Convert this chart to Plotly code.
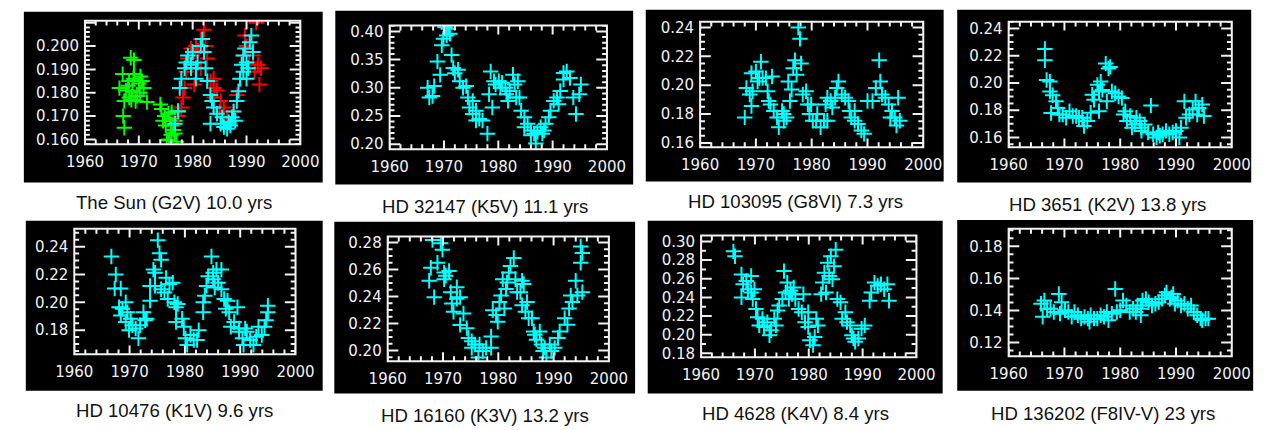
import math
import plotly.graph_objects as go

W, H = 1277, 430

# ---------------- data (year, S-index) ----------------
sun_green = [(1968.5,0.195),(1969.1,0.194),(1967.0,0.188),(1966.4,0.182),(1967.3,0.1765),(1967.1,0.170),
             (1967.3,0.165),(1968.2,0.185),(1968.8,0.181),(1969.4,0.1765),(1970.0,0.184),(1970.3,0.187),
             (1970.9,0.182),(1971.5,0.176),(1969.7,0.1786),(1968.2,0.178),(1967.6,0.181),(1969.1,0.188),
             (1970.6,0.185),(1968.0,0.183),(1969.0,0.186),(1970.2,0.180),(1968.6,0.177),
             (1974.2,0.173),(1974.8,0.170),(1974.5,0.168),(1975.5,0.171),(1975.8,0.169),(1976.1,0.166),
             (1976.4,0.164),(1976.7,0.1625),(1975.2,0.1597),(1977.0,0.159),(1977.3,0.1723),(1976.7,0.168),
             (1976.1,0.1716),(1975.0,0.166),(1976.0,0.162),(1974.0,0.175),(1975.6,0.160)]
sun_red = [(1977.3,0.170),(1977.9,0.1737),(1978.2,0.178),(1978.5,0.182),(1978.8,0.189),(1979.1,0.1947),
           (1979.7,0.199),(1980.6,0.200),(1981.5,0.203),(1982.1,0.207),(1982.4,0.200),(1982.7,0.1947),
           (1983.3,0.185),(1983.9,0.182),(1984.5,0.181),(1985.2,0.1765),(1985.8,0.1737),(1986.4,0.168),
           (1987.0,0.1667),(1987.6,0.172),(1988.2,0.179),(1988.8,0.186),(1989.4,0.196),(1989.7,0.2045),
           (1990.0,0.200),(1991.2,0.196),(1991.8,0.210),(1992.1,0.192),(1992.4,0.1835),(1992.7,0.1905),
           (1981.5,0.1905),(1980.3,0.1835),(1983.9,0.186),(1979.7,0.1905),(1980.0,0.196),(1981.0,0.198),
           (1984.0,0.178),(1985.0,0.172),(1990.5,0.193),(1991.5,0.189)]
sun_cyan = [(1976.7,0.1667),(1977.3,0.172),(1977.6,0.182),(1977.9,0.186),(1978.5,0.1905),(1978.8,0.193),
            (1979.1,0.196),(1980.0,0.1975),(1979.7,0.1905),(1980.6,0.186),(1980.9,0.193),(1981.5,0.200),
            (1981.8,0.203),(1982.1,0.1975),(1982.4,0.1905),(1982.7,0.185),(1983.3,0.179),(1983.6,0.1765),
            (1983.9,0.1737),(1983.3,0.1667),(1984.5,0.171),(1985.2,0.1667),(1985.8,0.1653),(1986.4,0.1646),
            (1987.0,0.166),(1987.3,0.1695),(1987.6,0.172),(1988.2,0.1765),(1988.5,0.1807),(1988.8,0.186),
            (1989.1,0.192),(1989.4,0.196),(1989.7,0.199),(1990.0,0.193),(1990.3,0.1905),(1990.6,0.2017),
            (1990.9,0.2045),(1991.2,0.1975),(1990.0,0.186),(1989.4,0.189),(1979.7,0.192),(1980.6,0.1905),
            (1985.5,0.1695),(1986.7,0.1674),(1987.9,0.168)]
hd32147 = [(1967.0,0.300),(1967.3,0.2826),(1967.9,0.2855),(1968.2,0.303),(1968.8,0.3465),(1969.3,0.323),
           (1969.6,0.3756),(1969.9,0.387),(1970.2,0.4075),(1970.8,0.4046),(1970.5,0.393),(1971.1,0.396),
           (1971.4,0.358),(1971.7,0.335),(1972.0,0.326),(1972.6,0.332),(1972.9,0.3116),(1973.5,0.300),
           (1974.1,0.303),(1974.4,0.2826),(1974.7,0.265),(1975.3,0.2535),(1975.9,0.242),(1976.5,0.2448),
           (1977.1,0.242),(1978.0,0.2186),(1978.3,0.2884),(1978.6,0.329),(1978.9,0.265),(1979.2,0.3116),
           (1979.5,0.306),(1980.1,0.3116),(1980.7,0.309),(1981.3,0.300),(1981.5,0.2884),(1981.8,0.2767),
           (1982.7,0.3233),(1983.0,0.306),(1983.3,0.2826),(1983.9,0.2826),(1984.2,0.2593),(1984.8,0.2477),
           (1985.4,0.236),(1986.0,0.2244),(1986.6,0.2186),(1986.9,0.2012),(1987.2,0.2215),(1987.8,0.2302),
           (1988.4,0.2244),(1988.7,0.236),(1989.3,0.2477),(1989.6,0.2593),(1990.2,0.2767),(1990.8,0.2826),
           (1991.1,0.271),(1991.4,0.2942),(1992.0,0.3262),(1992.6,0.329),(1993.2,0.3174),(1993.8,0.2826),
           (1994.3,0.2535),(1994.9,0.2884),(1995.2,0.306),(1984.8,0.2302),(1986.0,0.2157),(1988.1,0.2186),
           (1975.9,0.2593),(1975.3,0.2767),(1982.1,0.2942),(1983.6,0.3116),(1980.4,0.300),(1992.0,0.3145)]
hd103095 = [(1968.0,0.1777),(1968.3,0.198),(1968.9,0.1935),(1969.2,0.1856),(1969.4,0.1958),(1969.2,0.2083),
            (1970.0,0.2094),(1970.6,0.2049),(1970.9,0.2162),(1971.2,0.2049),(1971.8,0.2049),(1972.1,0.1958),
            (1972.3,0.189),(1972.9,0.206),(1972.6,0.1867),(1973.2,0.1822),(1973.8,0.1777),(1974.1,0.1709),
            (1974.7,0.1822),(1975.0,0.1754),(1975.5,0.1777),(1975.8,0.2026),(1976.1,0.189),(1976.4,0.197),
            (1976.7,0.2117),(1977.0,0.2173),(1977.3,0.2072),(1977.6,0.240),(1977.9,0.2321),(1978.1,0.2151),
            (1978.4,0.1935),(1979.0,0.1958),(1979.3,0.1867),(1979.6,0.180),(1979.9,0.1867),(1980.2,0.1754),
            (1980.8,0.1754),(1981.0,0.180),(1981.6,0.1709),(1982.2,0.1754),(1982.5,0.1867),(1982.8,0.1913),
            (1983.4,0.189),(1983.7,0.1845),(1984.2,0.1913),(1984.5,0.198),(1984.8,0.2026),(1985.4,0.1935),
            (1986.0,0.1913),(1986.6,0.189),(1986.8,0.1822),(1987.1,0.1777),(1987.7,0.1754),(1988.3,0.1731),
            (1988.9,0.1686),(1989.4,0.1663),(1990.0,0.189),(1990.9,0.189),(1991.5,0.198),(1992.1,0.2173),
            (1992.3,0.2026),(1992.6,0.1935),(1993.2,0.1913),(1993.8,0.1867),(1994.1,0.1777),(1994.4,0.1822),
            (1994.9,0.1777),(1995.2,0.172),(1995.5,0.1913),(1995.8,0.1754),(1970.3,0.2026),(1975.0,0.180),
            (1982.8,0.1754),(1987.7,0.1822)]
hd3651 = [(1966.5,0.225),(1966.5,0.2166),(1966.8,0.2022),(1967.4,0.201),(1967.4,0.1937),(1967.6,0.178),
          (1967.9,0.191),(1968.5,0.1865),(1968.8,0.1817),(1969.1,0.1769),(1969.7,0.1769),(1970.3,0.1745),
          (1970.9,0.1793),(1971.5,0.1757),(1972.1,0.1757),(1972.6,0.1745),(1973.2,0.1745),(1973.5,0.1684),
          (1974.1,0.172),(1974.7,0.1781),(1975.0,0.1913),(1975.3,0.1877),(1975.9,0.1986),(1976.2,0.1937),
          (1976.5,0.201),(1976.8,0.1949),(1977.4,0.2142),(1977.6,0.1865),(1977.9,0.2106),(1978.2,0.2118),
          (1978.5,0.1937),(1979.1,0.1925),(1979.7,0.1901),(1980.3,0.1889),(1980.6,0.1769),(1980.9,0.1793),
          (1981.2,0.172),(1981.8,0.1757),(1982.1,0.1672),(1982.6,0.1696),(1982.9,0.1745),(1983.5,0.172),
          (1983.8,0.1648),(1984.4,0.1696),(1985.0,0.1636),(1985.5,0.1834),(1985.9,0.1624),(1986.5,0.160),
          (1987.1,0.1612),(1987.6,0.1624),(1988.2,0.1648),(1988.8,0.1624),(1989.4,0.1636),(1990.0,0.1648),
          (1990.6,0.160),(1990.9,0.1672),(1991.5,0.1865),(1991.8,0.1745),(1992.4,0.1769),(1993.0,0.1805),
          (1993.5,0.1865),(1993.8,0.1769),(1994.1,0.1817),(1994.7,0.1841),(1995.0,0.1757),(1986.8,0.1636),
          (1976.2,0.1793),(1983.8,0.1672)]
hd10476 = [(1966.7,0.2329),(1967.5,0.220),(1967.3,0.2099),(1968.4,0.2099),(1968.1,0.1965),(1968.7,0.1953),
           (1968.4,0.1906),(1969.3,0.200),(1969.6,0.1929),(1969.3,0.1859),(1969.9,0.180),(1970.2,0.1882),
           (1970.5,0.1835),(1971.1,0.1812),(1971.6,0.1741),(1971.9,0.1835),(1972.5,0.1929),(1972.8,0.1871),
           (1973.1,0.1882),(1973.7,0.2012),(1973.7,0.2118),(1974.3,0.2235),(1974.6,0.2212),(1974.6,0.2118),
           (1975.1,0.2447),(1975.4,0.2353),(1975.7,0.2306),(1975.7,0.2094),(1976.3,0.2071),(1976.6,0.2176),
           (1976.9,0.2024),(1977.2,0.2129),(1977.8,0.2141),(1978.1,0.200),(1978.4,0.1965),(1978.7,0.1988),
           (1978.4,0.1859),(1979.5,0.1882),(1979.8,0.1824),(1980.1,0.1741),(1980.4,0.1694),(1981.0,0.1765),
           (1981.6,0.1729),(1982.2,0.1729),(1982.5,0.180),(1983.3,0.1929),(1983.3,0.200),(1983.6,0.2047),
           (1983.9,0.2118),(1984.2,0.2188),(1984.8,0.2329),(1985.1,0.2165),(1985.4,0.2106),(1985.7,0.2235),
           (1986.0,0.2141),(1986.6,0.2235),(1986.6,0.2094),(1987.1,0.2024),(1987.4,0.1953),(1987.7,0.2012),
           (1988.0,0.1929),(1988.3,0.1824),(1988.9,0.1859),(1989.5,0.1965),(1989.8,0.1788),(1990.4,0.1741),
           (1990.6,0.1694),(1991.2,0.1788),(1991.8,0.1729),(1992.4,0.1694),(1992.9,0.1753),(1993.3,0.1824),
           (1993.9,0.1765),(1994.4,0.1824),(1994.7,0.1871),(1995.0,0.1929),(1995.0,0.1976),(1989.8,0.1812),
           (1990.9,0.1812),(1985.1,0.2212)]
hd16160 = [(1967.8,0.2613),(1967.5,0.2516),(1968.4,0.2395),(1968.1,0.2819),(1969.0,0.265),(1969.6,0.2795),
           (1969.9,0.2747),(1969.9,0.2844),(1970.2,0.2577),(1970.5,0.2553),(1970.2,0.2528),(1971.1,0.2589),
           (1971.4,0.2432),(1971.6,0.2347),(1971.9,0.2286),(1972.5,0.2468),(1972.5,0.2383),(1973.1,0.2395),
           (1973.1,0.2189),(1973.7,0.2274),(1974.3,0.2165),(1974.6,0.2092),(1975.2,0.2068),(1975.8,0.2044),
           (1976.4,0.1947),(1976.6,0.2044),(1977.2,0.1995),(1977.8,0.2019),(1978.7,0.2104),(1978.7,0.2019),
           (1979.0,0.2298),(1979.6,0.2262),(1979.9,0.2213),(1980.2,0.2359),(1980.5,0.2407),(1980.8,0.2528),
           (1981.1,0.231),(1981.4,0.2456),(1981.6,0.2504),(1981.9,0.2577),(1982.2,0.2625),(1982.8,0.2686),
           (1983.1,0.2528),(1983.4,0.2432),(1984.0,0.2432),(1984.3,0.2516),(1984.6,0.2492),(1984.3,0.2335),
           (1984.9,0.2286),(1985.2,0.2359),(1985.5,0.2238),(1986.1,0.2238),(1986.6,0.2116),(1986.9,0.208),
           (1987.5,0.2141),(1987.8,0.2044),(1988.1,0.1995),(1988.7,0.1947),(1989.3,0.2044),(1989.6,0.1995),
           (1990.2,0.2019),(1990.8,0.2092),(1991.1,0.2141),(1992.0,0.2238),(1992.5,0.219),(1992.8,0.231),
           (1993.1,0.2407),(1993.4,0.2359),(1994.0,0.2516),(1994.3,0.2407),(1994.9,0.265),(1994.9,0.2771),
           (1995.2,0.2722),(1995.2,0.2432),(1986.4,0.2141),(1988.4,0.2019),(1975.2,0.2019)]
hd4628 = [(1966.0,0.2894),(1966.3,0.2841),(1967.5,0.2647),(1967.5,0.240),(1967.8,0.2541),(1968.4,0.2576),
          (1968.7,0.2488),(1969.3,0.2629),(1969.3,0.2453),(1969.6,0.2382),(1969.9,0.2488),(1970.2,0.2276),
          (1970.5,0.2188),(1970.8,0.210),(1971.4,0.217),(1971.7,0.2082),(1972.3,0.2135),(1972.7,0.1994),
          (1973.0,0.2047),(1973.6,0.217),(1973.9,0.210),(1974.2,0.2259),(1974.5,0.2312),(1975.1,0.2382),
          (1975.4,0.2682),(1975.7,0.2453),(1976.0,0.2559),(1976.3,0.2382),(1976.9,0.2435),(1977.2,0.2506),
          (1977.5,0.2382),(1978.1,0.2276),(1978.7,0.2241),(1979.0,0.2435),(1979.3,0.2135),(1979.9,0.2082),
          (1980.2,0.1941),(1980.8,0.1888),(1981.1,0.1976),(1981.4,0.217),(1981.7,0.210),(1982.3,0.2435),
          (1982.6,0.2559),(1982.9,0.2665),(1983.2,0.2453),(1983.5,0.2771),(1983.8,0.2629),(1984.1,0.2841),
          (1984.4,0.2594),(1984.7,0.2735),(1985.0,0.2912),(1985.3,0.2382),(1985.9,0.2347),(1986.2,0.217),
          (1986.8,0.2241),(1987.1,0.2135),(1987.7,0.210),(1988.0,0.1994),(1988.6,0.1924),(1989.2,0.1959),
          (1989.8,0.2065),(1990.4,0.210),(1991.3,0.2365),(1991.6,0.2453),(1992.2,0.2559),(1992.8,0.2524),
          (1993.4,0.2541),(1994.0,0.2488),(1994.6,0.2541),(1994.9,0.2365),(1988.3,0.1959),(1979.9,0.2241),
          (1976.6,0.2471)]
hd136202 = [(1965.8,0.1442),(1966.1,0.136),(1966.4,0.1462),(1966.9,0.1411),(1967.5,0.1411),(1968.1,0.139),
            (1969.0,0.1503),(1969.2,0.138),(1969.5,0.1452),(1970.1,0.1401),(1970.7,0.139),(1971.3,0.136),
            (1971.8,0.139),(1972.4,0.137),(1973.0,0.1349),(1973.6,0.136),(1974.2,0.1349),(1974.7,0.137),
            (1975.3,0.1349),(1975.9,0.1349),(1976.5,0.137),(1977.1,0.136),(1977.6,0.139),(1977.9,0.1339),
            (1978.5,0.138),(1979.1,0.1534),(1979.4,0.139),(1980.0,0.1401),(1980.5,0.1462),(1981.1,0.1431),
            (1981.7,0.139),(1982.3,0.1411),(1982.8,0.139),(1983.1,0.1431),(1983.7,0.1411),(1984.0,0.1462),
            (1984.6,0.1472),(1985.1,0.1452),(1985.7,0.1431),(1986.3,0.1442),(1986.9,0.1452),(1987.5,0.1472),
            (1988.0,0.1493),(1988.3,0.1513),(1988.9,0.1472),(1989.5,0.1503),(1989.8,0.1442),(1990.3,0.1462),
            (1990.9,0.1431),(1991.5,0.1442),(1992.1,0.1411),(1992.7,0.1431),(1993.2,0.139),(1993.8,0.137),
            (1994.4,0.1349),(1994.7,0.1339),(1995.3,0.1349),(1995.8,0.1349),(1974.5,0.1329),(1983.7,0.137),
            (1989.2,0.1483)]

captions = ["The Sun (G2V) 10.0 yrs", "HD 32147 (K5V) 11.1 yrs", "HD 103095 (G8VI) 7.3 yrs",
            "HD 3651 (K2V) 13.8 yrs", "HD 10476 (K1V) 9.6 yrs", "HD 16160 (K3V) 13.2 yrs",
            "HD 4628 (K4V) 8.4 yrs", "HD 136202 (F8IV-V) 23 yrs"]
year_ticks = [1960, 1970, 1980, 1990, 2000]

GREEN, RED, CYAN = "#00ff00", "#ff0000", "#00ffff"

# ---------------- layout of the eight panels (pixels) ----------------
panels = [
    dict(series=[(sun_green, GREEN), (sun_red, RED), (sun_cyan, CYAN)], frame=(68, 18, 290, 144),
         bg=(5, 9, 313, 183), yr=(0.1579, 0.2109), yt=[0.16, 0.17, 0.18, 0.19, 0.20], fmt="{:.3f}",
         minor=0.002, cap=(160, 203)),
    dict(series=[(hd32147, CYAN)], frame=(382, 23, 606, 149), bg=(326, 8, 633, 185),
         yr=(0.191, 0.4104), yt=[0.20, 0.25, 0.30, 0.35, 0.40], fmt="{:.2f}", minor=0.01, cap=(480, 207)),
    dict(series=[(hd103095, CYAN)], frame=(702, 19, 932, 147), bg=(646, 7, 953, 182),
         yr=(0.157, 0.244), yt=[0.16, 0.18, 0.20, 0.22, 0.24], fmt="{:.2f}", minor=0.005, cap=(800, 202)),
    dict(series=[(hd3651, CYAN)], frame=(1020, 19, 1250, 147), bg=(967, 7, 1270, 183),
         yr=(0.1528, 0.245), yt=[0.16, 0.18, 0.20, 0.22, 0.24], fmt="{:.2f}", minor=0.005, cap=(1122, 205)),
    dict(series=[(hd10476, CYAN)], frame=(57, 230, 285, 358), bg=(7, 222, 313, 395),
         yr=(0.1626, 0.2529), yt=[0.18, 0.20, 0.22, 0.24], fmt="{:.2f}", minor=0.005, cap=(160, 415)),
    dict(series=[(hd16160, CYAN)], frame=(380, 238, 608, 365), bg=(325, 223, 635, 398),
         yr=(0.192, 0.2844), yt=[0.20, 0.22, 0.24, 0.26, 0.28], fmt="{:.2f}", minor=0.005, cap=(480, 420)),
    dict(series=[(hd4628, CYAN)], frame=(703, 237, 925, 361), bg=(648, 222, 952, 398),
         yr=(0.1758, 0.3063), yt=[0.18, 0.20, 0.22, 0.24, 0.26, 0.28, 0.30], fmt="{:.2f}", minor=0.01,
         cap=(800, 418)),
    dict(series=[(hd136202, CYAN)], frame=(1020, 230, 1250, 360), bg=(967, 221, 1272, 395),
         yr=(0.1114, 0.191), yt=[0.12, 0.14, 0.16, 0.18], fmt="{:.2f}", minor=0.005, cap=(1117, 418)),
]

fig = go.Figure()
shapes, annotations = [], []
AX = "#f2f2f2"
TICKFONT = dict(family="DejaVu Sans", size=15, color="#f2f2f2")
XMAJ, XMIN, YMAJ, YMIN = 9, 5, 11, 5   # tick lengths in px

for i, p in enumerate(panels):
    n = i + 1
    xa = "xaxis" if n == 1 else f"xaxis{n}"
    ya = "yaxis" if n == 1 else f"yaxis{n}"
    xr = "x" if n == 1 else f"x{n}"
    yr = "y" if n == 1 else f"y{n}"
    for pts, col in p["series"]:
        fig.add_trace(go.Scatter(
            x=[a for a, b in pts], y=[b for a, b in pts], mode="markers", xaxis=xr, yaxis=yr,
            marker=dict(symbol="cross-thin", size=11, line=dict(width=2, color=col)),
            showlegend=False, hoverinfo="skip"))
    x0, y0, x1, y1 = p["frame"]
    ymin, ymax = p["yr"]
    fig.layout[xa] = dict(
        domain=[x0 / W, x1 / W], range=[1960, 2000], anchor=yr,
        showgrid=False, zeroline=False, showline=False, ticks="",
        tickvals=year_ticks, ticktext=[str(v) for v in year_ticks], tickfont=TICKFONT,
        ticklabelstandoff=7)
    fig.layout[ya] = dict(
        domain=[1 - y1 / H, 1 - y0 / H], range=[ymin, ymax], anchor=xr,
        showgrid=False, zeroline=False, showline=False, ticks="",
        tickvals=p["yt"], ticktext=[p["fmt"].format(v) for v in p["yt"]], tickfont=TICKFONT,
        ticklabelstandoff=5)

    # IDL-style box: ticks pointing inwards on all four sides (major + minor)
    fw, fh = x1 - x0, y1 - y0
    dx_px = 40.0 / fw
    dy_px = (ymax - ymin) / fh
    segs = []
    for yv in range(1960, 2001, 2):
        L = (XMAJ if yv % 10 == 0 else XMIN) * dy_px
        segs.append(f"M{yv},{ymin} L{yv},{ymin + L}")
        segs.append(f"M{yv},{ymax} L{yv},{ymax - L}")
    step = p["yt"][1] - p["yt"][0]
    m = p["minor"]
    for k in range(math.ceil(ymin / m - 1e-9), math.floor(ymax / m + 1e-9) + 1):
        v = k * m
        major = abs(v / step - round(v / step)) < 1e-6
        L = (YMAJ if major else YMIN) * dx_px
        segs.append(f"M1960,{v:.6f} L{1960 + L:.4f},{v:.6f}")
        segs.append(f"M2000,{v:.6f} L{2000 - L:.4f},{v:.6f}")
    shapes.append(dict(type="path", xref=xr, yref=yr, layer="above", path=" ".join(segs),
                       line=dict(color=AX, width=2)))

    bx0, by0, bx1, by1 = p["bg"]
    shapes.append(dict(type="rect", xref="paper", yref="paper", layer="below",
                       x0=bx0 / W, x1=bx1 / W, y0=1 - by1 / H, y1=1 - by0 / H,
                       fillcolor="black", line=dict(width=0)))
    shapes.append(dict(type="rect", xref=f"{xr} domain", yref=f"{yr} domain", layer="above",
                       x0=0, x1=1, y0=0, y1=1, fillcolor="rgba(0,0,0,0)",
                       line=dict(color=AX, width=2)))
    cx, cy = p["cap"]
    annotations.append(dict(text=captions[i], xref="paper", yref="paper", x=cx / W, y=1 - cy / H,
                            xanchor="center", yanchor="middle", showarrow=False,
                            font=dict(family="Liberation Sans", size=18.6, color="#111111")))

fig.update_layout(width=W, height=H, autosize=False, margin=dict(l=0, r=0, t=0, b=0),
                  paper_bgcolor="white", plot_bgcolor="black", shapes=shapes,
                  annotations=annotations, showlegend=False)

fig.write_html("out.html", config={"displayModeBar": False, "staticPlot": True},
               post_script="document.body.style.margin='0';document.body.style.overflow='hidden';")
